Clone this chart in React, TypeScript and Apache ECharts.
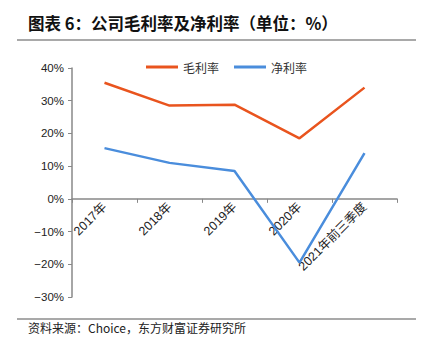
import React, { useEffect, useRef } from "react";
import * as echarts from "echarts";

const categories = ["2017年", "2018年", "2019年", "2020年", "2021年前三季度"];
const grossMargin = [35.5, 28.5, 28.8, 18.5, 34.0];
const netMargin = [15.5, 11.0, 8.5, -19.5, 14.0];
const seriesNames = ["毛利率", "净利率"];
const titleText = "图表 6：公司毛利率及净利率（单位：%）";
const sourceText = "资料来源：Choice，东方财富证券研究所";

const Y_MIN = -30;
const Y_MAX = 40;
const GRID_TOP = 68;
const GRID_BOTTOM = 54;
const HEIGHT = 351;

export default function App() {
  const ref = useRef<HTMLDivElement>(null);
  useEffect(() => {
    if (!ref.current) return;
    const chart = echarts.init(ref.current, undefined, { renderer: "svg" });
    const cjk = '"Noto Sans CJK SC", sans-serif';
    const gridH = HEIGHT - GRID_TOP - GRID_BOTTOM;
    const zeroOffset = (gridH * (0 - Y_MIN)) / (Y_MAX - Y_MIN);
    chart.setOption({
      animation: false,
      backgroundColor: "#ffffff",
      grid: {
        left: 72,
        right: 32,
        top: GRID_TOP,
        bottom: GRID_BOTTOM,
        containLabel: false,
        outerBoundsMode: "none",
      },
      legend: {
        data: seriesNames,
        left: 141,
        top: 56,
        icon: "rect",
        itemWidth: 32,
        itemHeight: 3,
        itemGap: 15,
        textStyle: { fontFamily: cjk, fontSize: 12, color: "#333" },
      },
      xAxis: {
        type: "category",
        data: categories,
        boundaryGap: true,
        offset: -zeroOffset,
        axisLine: { onZero: false, lineStyle: { color: "#888", width: 1.5 } },
        axisTick: { show: true, length: 4, lineStyle: { color: "#888" } },
        axisLabel: {
          rotate: 45,
          fontSize: 12.5,
          color: "#222",
          margin: 6,
          fontFamily: '"Liberation Sans", "Noto Sans CJK SC", sans-serif',
        },
      },
      yAxis: {
        type: "value",
        min: Y_MIN,
        max: Y_MAX,
        interval: 10,
        splitLine: { show: false },
        axisLine: { show: true, lineStyle: { color: "#888", width: 1.5 } },
        axisTick: { show: true, length: 4, lineStyle: { color: "#888" } },
        axisLabel: {
          fontSize: 11.5,
          color: "#222",
          margin: 8,
          fontFamily: '"Liberation Sans", sans-serif',
          formatter: (v: number) => (v < 0 ? "\u2212" + Math.abs(v) : String(v)) + "%",
        },
      },
      series: [
        {
          name: seriesNames[0],
          type: "line",
          data: grossMargin,
          showSymbol: false,
          symbol: "none",
          lineStyle: { color: "#E9541E", width: 2.5 },
          itemStyle: { color: "#E9541E" },
        },
        {
          name: seriesNames[1],
          type: "line",
          data: netMargin,
          showSymbol: false,
          symbol: "none",
          lineStyle: { color: "#4A8DDC", width: 2.5 },
          itemStyle: { color: "#4A8DDC" },
        },
      ],
      graphic: [
        {
          type: "text",
          left: 28,
          top: 15,
          style: {
            text: titleText,
            font: 'bold 16.5px "Noto Sans CJK SC", sans-serif',
            fill: "#111",
          },
        },
        {
          type: "line",
          shape: { x1: 17, y1: 40, x2: 416, y2: 40 },
          style: { stroke: "#555", lineWidth: 1.2 },
        },
        {
          type: "line",
          shape: { x1: 17, y1: 319, x2: 416, y2: 319 },
          style: { stroke: "#555", lineWidth: 1.2 },
        },
        {
          type: "text",
          left: 28,
          top: 321,
          style: {
            text: sourceText,
            font: '12px "Noto Sans CJK SC", sans-serif',
            fill: "#222",
          },
        },
      ],
    });
    return () => chart.dispose();
  }, []);
  return (
    <div
      ref={ref}
      style={{ position: "fixed", left: 0, top: 0, width: 429, height: 351 }}
    />
  );
}
